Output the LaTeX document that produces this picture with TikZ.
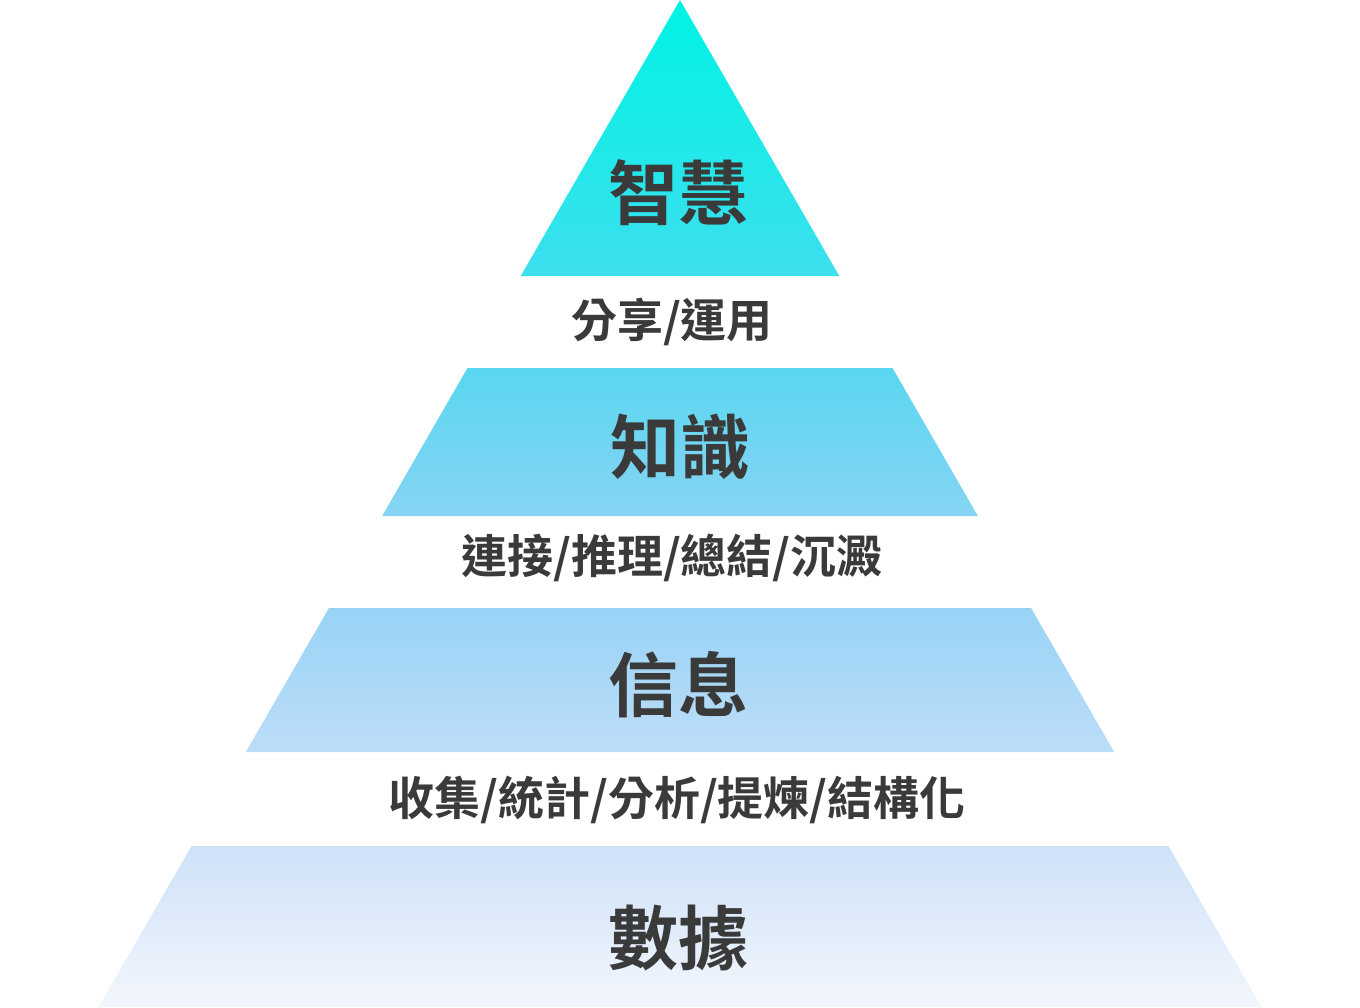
\documentclass[tikz,border=0pt]{standalone}
\usepackage{fontspec}
\newfontfamily\cjk{Noto Sans CJK TC Bold}
\definecolor{txt}{HTML}{3A3A3A}
\definecolor{laA}{HTML}{00F3E4}
\definecolor{laB}{HTML}{3CDFEE}
\definecolor{lbA}{HTML}{5AD6F0}
\definecolor{lbB}{HTML}{86D5F3}
\definecolor{lcA}{HTML}{98D3F6}
\definecolor{lcB}{HTML}{BDDDF8}
\definecolor{ldA}{HTML}{CEE2F8}
\definecolor{ldB}{HTML}{F3F6FD}
\tikzset{
  bigtext/.style={text=txt, font=\cjk\fontsize{70}{80}\selectfont, inner sep=0pt},
  smalltext/.style={text=txt, font=\cjk\fontsize{46}{52}\selectfont, inner sep=0pt},
}
\begin{document}
\begin{tikzpicture}[x=1pt,y=-1pt]
\useasboundingbox[fill=white] (0,0) rectangle (1360,1007);
% layers
\shade[top color=laA, bottom color=laB] (680,0) -- (839.3,276) -- (520.7,276) -- cycle;
\shade[top color=lbA, bottom color=lbB] (467.5,368) -- (892.5,368) -- (977.9,516) -- (382.1,516) -- cycle;
\shade[top color=lcA, bottom color=lcB] (329,608) -- (1031,608) -- (1114.2,752) -- (245.8,752) -- cycle;
\shade[top color=ldA, bottom color=ldB] (191.6,846) -- (1168.4,846) -- (1261.4,1007) -- (98.6,1007) -- cycle;
% labels
\node[bigtext] (wisdom) at (678,193) {智慧};
\node[smalltext] (share) at (672,322) {分享/運用};
\node[bigtext] (knowledge) at (680,447) {知識};
\node[smalltext] (connect) at (672,558) {連接/推理/總結/沉澱};
\node[bigtext] (info) at (678,685) {信息};
\node[smalltext] (collect) at (677,800) {收集/統計/分析/提煉/結構化};
\node[bigtext] (data) at (678,938) {數據};
\end{tikzpicture}
\end{document}
